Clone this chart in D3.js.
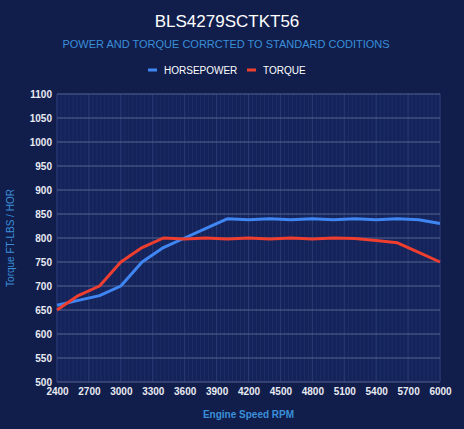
<!DOCTYPE html>
<html>
<head>
<meta charset="utf-8">
<script src="https://cdn.jsdelivr.net/npm/d3@7"></script>
<style>
  html, body { margin: 0; padding: 0; background: #111e4c; }
  svg { display: block; font-family: "Liberation Sans", Arial, sans-serif; }
</style>
</head>
<body>
<div id="graphicContainer"></div>
<script>
// chart data
var rpm = [2400, 2600, 2800, 3000, 3200, 3400, 3600, 3800, 4000, 4200, 4400, 4600, 4800, 5000, 5200, 5400, 5600, 5800, 6000];
var horsepower = [660, 670, 680, 700, 750, 780, 800, 820, 840, 838, 840, 838, 840, 838, 840, 838, 840, 838, 830];
var torque = [650, 680, 700, 750, 780, 800, 798, 800, 798, 800, 798, 800, 798, 800, 799, 795, 790, 770, 750];
var xTicks = [2400, 2700, 3000, 3300, 3600, 3900, 4200, 4500, 4800, 5100, 5400, 5700, 6000];
var yTicks = [500, 550, 600, 650, 700, 750, 800, 850, 900, 950, 1000, 1050, 1100];
var seriesNames = ["HORSEPOWER", "TORQUE"];
var seriesColors = ["#3f86f2", "#ee3e2f"];

var width = 464, height = 429;
var margin = {top: 94, right: 24, bottom: 47, left: 57};
var w = width - margin.left - margin.right,
    h = height - margin.top - margin.bottom;

var svg = d3.select("#graphicContainer").append("svg")
  .attr("width", width)
  .attr("height", height);

svg.append("rect").attr("width", width).attr("height", height).attr("fill", "#111e4c");

var x = d3.scaleLinear().domain([2400, 6000]).range([0, w]);
var y = d3.scaleLinear().domain([500, 1100]).range([h, 0]);

// titles
svg.append("text")
  .attr("x", 227).attr("y", 27)
  .attr("text-anchor", "middle")
  .attr("fill", "#ffffff")
  .style("font-size", "17px")
  .text("BLS4279SCTKT56");

svg.append("text")
  .attr("x", 226).attr("y", 48)
  .attr("text-anchor", "middle")
  .attr("fill", "#3a8fd8")
  .style("font-size", "11px")
  .text("POWER AND TORQUE CORRCTED TO STANDARD CODITIONS");

// legend
var legend = svg.append("g").attr("transform", "translate(148,70)");
var legX = [0, 99];
seriesNames.forEach(function(n, i) {
  var lg = legend.append("g").attr("transform", "translate(" + legX[i] + ",0)");
  lg.append("rect").attr("x", 0).attr("y", -1.5).attr("width", 9).attr("height", 3).attr("fill", seriesColors[i]);
  lg.append("text").attr("x", 16).attr("y", 3.5)
    .attr("fill", "#ffffff")
    .style("font-size", "10px")
    .text(n);
});

var g = svg.append("g").attr("transform", "translate(" + margin.left + "," + margin.top + ")");

g.append("rect").attr("width", w).attr("height", h).attr("fill", "#14235a");

// minor vertical grid
var minor = d3.range(2400, 6000.01, 300 / 8);
g.append("g").selectAll("line")
  .data(minor)
  .enter().append("line")
  .attr("x1", d => x(d)).attr("x2", d => x(d))
  .attr("y1", 0).attr("y2", h)
  .attr("stroke", "#1e2d66")
  .attr("stroke-width", 1);

// major vertical grid
g.append("g").selectAll("line")
  .data(xTicks)
  .enter().append("line")
  .attr("x1", d => x(d)).attr("x2", d => x(d))
  .attr("y1", 0).attr("y2", h)
  .attr("stroke", "#2a3a74")
  .attr("stroke-width", 1);

// horizontal grid
g.append("g").selectAll("line")
  .data(yTicks)
  .enter().append("line")
  .attr("x1", 0).attr("x2", w)
  .attr("y1", d => y(d)).attr("y2", d => y(d))
  .attr("stroke", "#55628f")
  .attr("stroke-width", 1);

// axes
var yAxis = g.append("g")
  .call(d3.axisLeft(y).tickValues(yTicks).tickFormat(d3.format("d")).tickSize(0).tickPadding(5));
yAxis.select(".domain").remove();
yAxis.selectAll("text")
  .attr("fill", "#e8eaf2")
  .style("font-size", "10px")
  .style("font-weight", "bold")
  .style("font-family", "'Liberation Sans', Arial, sans-serif");

var xAxis = g.append("g")
  .attr("transform", "translate(0," + h + ")")
  .call(d3.axisBottom(x).tickValues(xTicks).tickFormat(d3.format("d")).tickSize(0).tickPadding(6));
xAxis.select(".domain").remove();
xAxis.selectAll("text")
  .attr("fill", "#e8eaf2")
  .style("font-size", "10px")
  .style("font-weight", "bold")
  .style("font-family", "'Liberation Sans', Arial, sans-serif");

// axis titles
svg.append("text")
  .attr("x", margin.left + w / 2).attr("y", 418)
  .attr("text-anchor", "middle")
  .attr("fill", "#3a8fd8")
  .style("font-size", "10px")
  .style("font-weight", "bold")
  .text("Engine Speed RPM");

svg.append("text")
  .attr("transform", "translate(14," + (margin.top + h / 2) + ") rotate(-90)")
  .attr("text-anchor", "middle")
  .attr("fill", "#3a8fd8")
  .style("font-size", "10px")
  .text("Torque FT-LBS / HOR");

// lines
var line = d3.line()
  .x(d => x(d[0]))
  .y(d => y(d[1]));

[horsepower, torque].forEach(function(vals, i) {
  g.append("path")
    .datum(rpm.map((r, j) => [r, vals[j]]))
    .attr("d", line)
    .attr("fill", "none")
    .attr("stroke", seriesColors[i])
    .attr("stroke-width", 3)
    .attr("stroke-linejoin", "round");
});
</script>
</body>
</html>
